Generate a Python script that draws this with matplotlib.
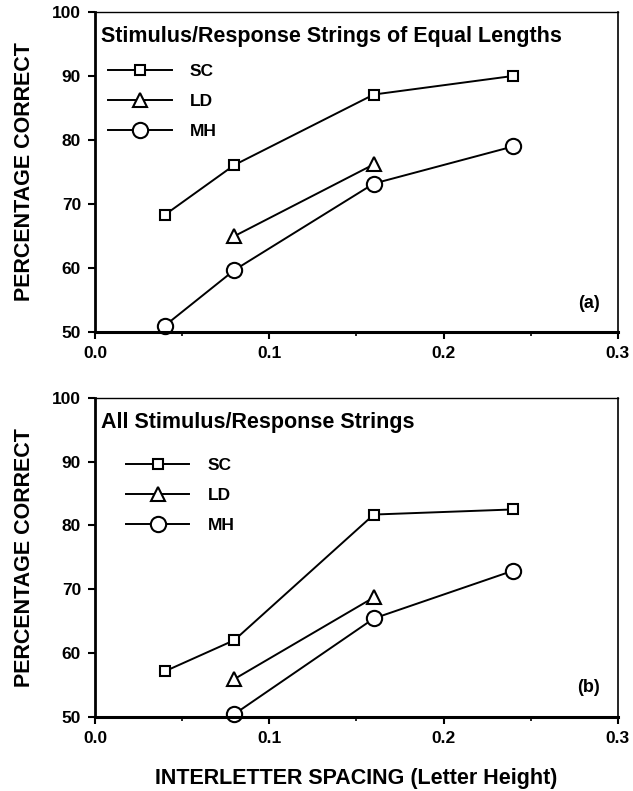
import numpy as np
import matplotlib
matplotlib.use('Agg')
import matplotlib.pyplot as plt
from matplotlib.ticker import MultipleLocator

plt.rcParams['font.family'] = ['Liberation Sans', 'DejaVu Sans']
plt.rcParams['font.weight'] = 'bold'

# panel (a): equal length strings
sc_x_a = [0.04, 0.08, 0.16, 0.24]
sc_y_a = [68.3, 76.1, 87.1, 90.0]
ld_x_a = [0.08, 0.16]
ld_y_a = [65.0, 76.2]
mh_x_a = [0.04, 0.08, 0.16, 0.24]
mh_y_a = [51.0, 59.7, 73.2, 79.0]

# panel (b): all strings
sc_x_b = [0.04, 0.08, 0.16, 0.24]
sc_y_b = [57.1, 62.0, 81.7, 82.5]
ld_x_b = [0.08, 0.16]
ld_y_b = [55.9, 68.7]
mh_x_b = [0.08, 0.16, 0.24]
mh_y_b = [50.4, 65.4, 72.9]

titles = ['Stimulus/Response Strings of Equal Lengths', 'All Stimulus/Response Strings']
panel_tags = ['(a)', '(b)']

fig = plt.figure(figsize=(6.33, 7.91), dpi=100)
ax1 = fig.add_axes([0.150, 0.580, 0.826, 0.405])
ax2 = fig.add_axes([0.150, 0.094, 0.826, 0.403])

data = [
    (ax1, sc_x_a, sc_y_a, ld_x_a, ld_y_a, mh_x_a, mh_y_a),
    (ax2, sc_x_b, sc_y_b, ld_x_b, ld_y_b, mh_x_b, mh_y_b),
]

for i, (ax, scx, scy, ldx, ldy, mhx, mhy) in enumerate(data):
    ax.plot(scx, scy, color='black', lw=1.4, marker='s', ms=7, mfc='white', mec='black', mew=1.5, label='SC', clip_on=False)
    ax.plot(ldx, ldy, color='black', lw=1.4, marker='^', ms=10, mfc='white', mec='black', mew=1.5, label='LD', clip_on=False)
    ax.plot(mhx, mhy, color='black', lw=1.4, marker='o', ms=11, mfc='white', mec='black', mew=1.5, label='MH', clip_on=False)
    ax.set_xlim(0.0, 0.3)
    ax.set_ylim(50, 100)
    ax.set_xticks([0.0, 0.1, 0.2, 0.3])
    ax.set_xticklabels(['0.0', '0.1', '0.2', '0.3'])
    ax.xaxis.set_minor_locator(MultipleLocator(0.05))
    ax.set_yticks([50, 60, 70, 80, 90, 100])
    ax.tick_params(axis='both', which='major', labelsize=12.5, width=1.5, length=5, direction='out', pad=5)
    ax.tick_params(axis='x', which='minor', width=1.2, length=3, direction='out')
    ax.spines['left'].set_linewidth(2.0)
    ax.spines['bottom'].set_linewidth(2.2)
    ax.spines['top'].set_linewidth(1.0)
    ax.spines['right'].set_linewidth(1.2)
    ax.set_ylabel('PERCENTAGE CORRECT', fontsize=15.5, fontweight='bold', labelpad=12)
    ax.text(0.012, 0.955, titles[i], transform=ax.transAxes, fontsize=15.5, fontweight='bold', va='top', ha='left')
    ax.text(0.965, 0.09, panel_tags[i], transform=ax.transAxes, fontsize=13, fontweight='bold', ha='right', va='center')
    if i == 0:
        ax.legend(loc='upper left', bbox_to_anchor=(-0.005, 0.885), frameon=False, handlelength=3.7,
                  fontsize=12.5, labelspacing=0.85, handletextpad=1.0)
    else:
        ax.legend(loc='upper left', bbox_to_anchor=(0.03, 0.86), frameon=False, handlelength=3.6,
                  fontsize=12.5, labelspacing=0.85, handletextpad=1.1)

ax2.set_xlabel('INTERLETTER SPACING (Letter Height)', fontsize=15.5, fontweight='bold', labelpad=16)

plt.savefig('out.png', dpi=100)
